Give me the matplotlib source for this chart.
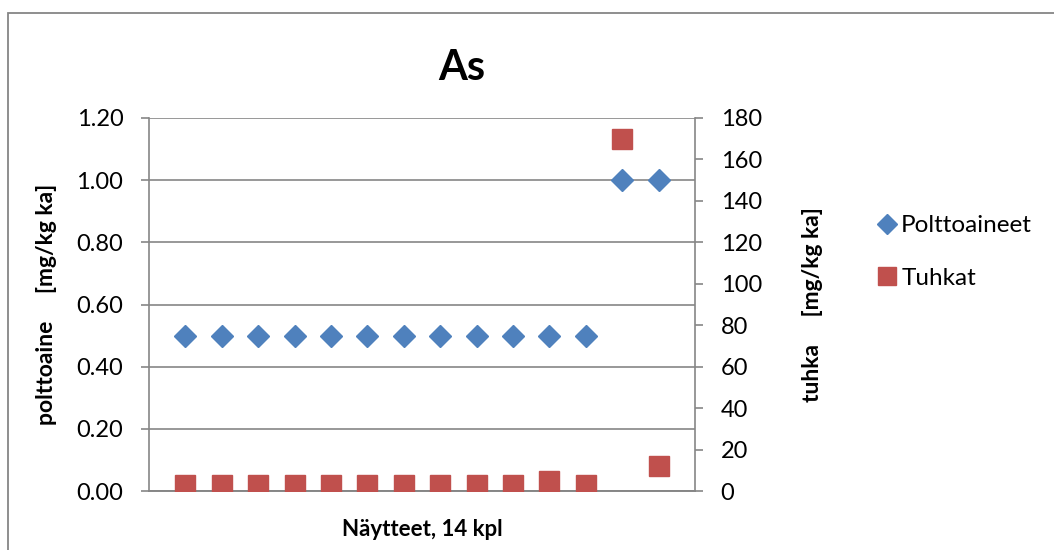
import matplotlib.pyplot as plt
from matplotlib.patches import Rectangle

# samples 1..14
samples = list(range(1, 15))
polttoaineet = [0.5, 0.5, 0.5, 0.5, 0.5, 0.5, 0.5, 0.5, 0.5, 0.5, 0.5, 0.5, 1.0, 1.0]
tuhkat = [3, 3, 3, 3, 3, 3, 3, 3, 3, 3, 5, 3, 170, 12]

left_ticks = [0.0, 0.2, 0.4, 0.6, 0.8, 1.0, 1.2]
right_ticks = list(range(0, 181, 20))

blue = '#4F81BD'
red = '#C0504D'
grey = '#868686'

plt.rcParams['font.family'] = ['Lato', 'DejaVu Sans']


def main():
    fig = plt.figure(figsize=(10.54, 5.5), dpi=100)
    # chart border (only top and left visible in the crop)
    fig.patches.append(Rectangle((8 / 1054, -0.1), 1.2, 1 - 13 / 550 + 0.1,
                                 transform=fig.transFigure, fill=False,
                                 edgecolor=grey, linewidth=1.3))

    ax = fig.add_axes([149 / 1054, 1 - 491 / 550, (695 - 149) / 1054, (491 - 118) / 550])
    ax2 = ax.twinx()

    ax.plot(samples, polttoaineet, linestyle='none', marker='D', markersize=11,
            color=blue, label='Polttoaineet', zorder=3)
    ax2.plot(samples, tuhkat, linestyle='none', marker='s', markersize=14,
             color=red, label='Tuhkat', zorder=3)

    ax.set_xlim(0, 15.0)
    ax.set_ylim(0, 1.2)
    ax2.set_ylim(0, 180)
    ax.set_yticks(left_ticks)
    ax.set_yticklabels(['%.2f' % v for v in left_ticks])
    ax2.set_yticks(right_ticks)
    ax.set_xticks([])
    ax.grid(axis='y', color=grey, linewidth=1.2)
    ax.set_axisbelow(True)

    for a in (ax, ax2):
        for s in a.spines.values():
            s.set_color(grey)
            s.set_linewidth(1.2)
        a.spines['top'].set_visible(False)
        a.tick_params(axis='y', length=5.5, width=1.2, color=grey,
                      labelsize=17, pad=13)
    ax2.spines['left'].set_visible(False)
    ax.spines['right'].set_visible(False)

    ax.set_ylabel('polttoaine     [mg/kg ka]', fontsize=16.5, fontweight='bold', labelpad=14)
    ax2.set_ylabel('tuhka     [mg/kg ka]', fontsize=16.5, fontweight='bold', labelpad=29)
    ax.set_xlabel('Näytteet, 14 kpl', fontsize=16, fontweight='bold', labelpad=20)
    fig.text(462 / 1054, 1 - 68 / 550, 'As', fontsize=30, fontweight='bold',
             ha='center', va='center')

    h1, l1 = ax.get_legend_handles_labels()
    h2, l2 = ax2.get_legend_handles_labels()
    fig.legend(h1 + h2, l1 + l2, loc='center left',
               bbox_to_anchor=(855 / 1054, 1 - 252 / 550), frameon=False,
               fontsize=17.5, handlelength=0.8, handletextpad=0.2,
               labelspacing=1.3, markerscale=0.9)

    fig.savefig('out.png', dpi=100)


if __name__ == "__main__":
    main()
